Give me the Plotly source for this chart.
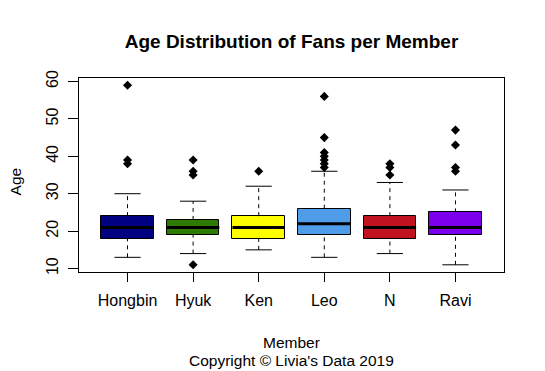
import plotly.graph_objects as go

members = ["Hongbin", "Hyuk", "Ken", "Leo", "N", "Ravi"]
colors = ["#000080", "#2E7B02", "#FFFF00", "#4F9CE9", "#C0121F", "#7C00EE"]
q1 = [18, 19, 18, 19, 18, 19]
median = [21, 21, 21, 22, 21, 21]
q3 = [24, 23, 24, 26, 24, 25]
lower_whisker = [13, 14, 15, 13, 14, 11]
upper_whisker = [30, 28, 32, 36, 33, 31]
outliers = {
    "Hongbin": [59, 39, 38],
    "Hyuk": [39, 36, 35, 11],
    "Ken": [36],
    "Leo": [56, 45, 41, 40, 39, 38, 37],
    "N": [38, 37, 35],
    "Ravi": [47, 43, 37, 36],
}
yticks = [10, 20, 30, 40, 50, 60]

BOXW = 0.8
STAPLE = 0.4
FONT = "Liberation Sans, Arial, Helvetica, sans-serif"

pos = list(range(1, len(members) + 1))
fig = go.Figure()

# boxes
fig.add_trace(go.Bar(
    x=pos, y=[b - a for a, b in zip(q1, q3)], base=q1, width=BOXW,
    marker=dict(color=colors, line=dict(color="black", width=1)),
    hoverinfo="skip", showlegend=False,
))

# whiskers (dashed)
wx, wy = [], []
for p, a, lo, b, hi in zip(pos, q1, lower_whisker, q3, upper_whisker):
    wx += [p, p, None, p, p, None]
    wy += [lo, a, None, b, hi, None]
fig.add_trace(go.Scatter(x=wx, y=wy, mode="lines",
                         line=dict(color="black", width=1, dash="4px,4px"),
                         hoverinfo="skip", showlegend=False))

# staples
sx, sy = [], []
for p, lo, hi in zip(pos, lower_whisker, upper_whisker):
    sx += [p - STAPLE / 2, p + STAPLE / 2, None, p - STAPLE / 2, p + STAPLE / 2, None]
    sy += [lo, lo, None, hi, hi, None]
fig.add_trace(go.Scatter(x=sx, y=sy, mode="lines",
                         line=dict(color="black", width=1),
                         hoverinfo="skip", showlegend=False))

# medians
mx, my = [], []
for p, m in zip(pos, median):
    mx += [p - BOXW / 2, p + BOXW / 2, None]
    my += [m, m, None]
fig.add_trace(go.Scatter(x=mx, y=my, mode="lines",
                         line=dict(color="black", width=3),
                         hoverinfo="skip", showlegend=False))

# outliers
ox, oy = [], []
for p, name in zip(pos, members):
    for v in outliers[name]:
        ox.append(p)
        oy.append(v)
fig.add_trace(go.Scatter(x=ox, y=oy, mode="markers",
                         marker=dict(symbol="diamond", size=7, color="black"),
                         showlegend=False))

fig.update_layout(
    width=545, height=371,
    margin=dict(l=79, r=41, t=78, b=99),
    paper_bgcolor="white", plot_bgcolor="white",
    font=dict(family=FONT, size=16, color="black"),
    title=dict(text="<b>Age Distribution of Fans per Member</b>",
               font=dict(size=19, family=FONT, color="black"),
               x=0.5, xref="paper", xanchor="center",
               y=1 - 41 / 371, yref="container", yanchor="middle"),
    xaxis=dict(range=[0.26, 6.74], tickvals=pos, ticktext=members,
               showgrid=False, zeroline=False,
               showline=True, linecolor="black", linewidth=1, mirror=True,
               ticks="outside", ticklen=9, tickcolor="black", ticklabelstandoff=5),
    yaxis=dict(range=[9.08, 60.92], tickvals=yticks,
               showgrid=False, zeroline=False,
               showline=True, linecolor="black", linewidth=1, mirror=True,
               ticks="outside", ticklen=10, tickcolor="black", tickangle=-90,
               ticklabelstandoff=4),
    bargap=0,
    annotations=[
        dict(text="Age", xref="paper", yref="paper", x=(15 - 79) / 425, y=(272.3 - 181.7) / 194,
             showarrow=False, textangle=-90, xanchor="center", yanchor="middle",
             font=dict(size=15.5)),
        dict(text="Member", xref="paper", yref="paper", x=0.5, y=(272.3 - 343) / 194,
             showarrow=False, xanchor="center", yanchor="middle", font=dict(size=15.5)),
        dict(text="Copyright © Livia's Data 2019", xref="paper", yref="paper", x=0.5,
             y=(272.3 - 360.5) / 194, showarrow=False, xanchor="center", yanchor="middle",
             font=dict(size=15.5)),
    ],
)

fig.write_html("out.html", config={"displayModeBar": False},
               post_script="document.body.style.margin='0';document.body.style.overflow='hidden';")
